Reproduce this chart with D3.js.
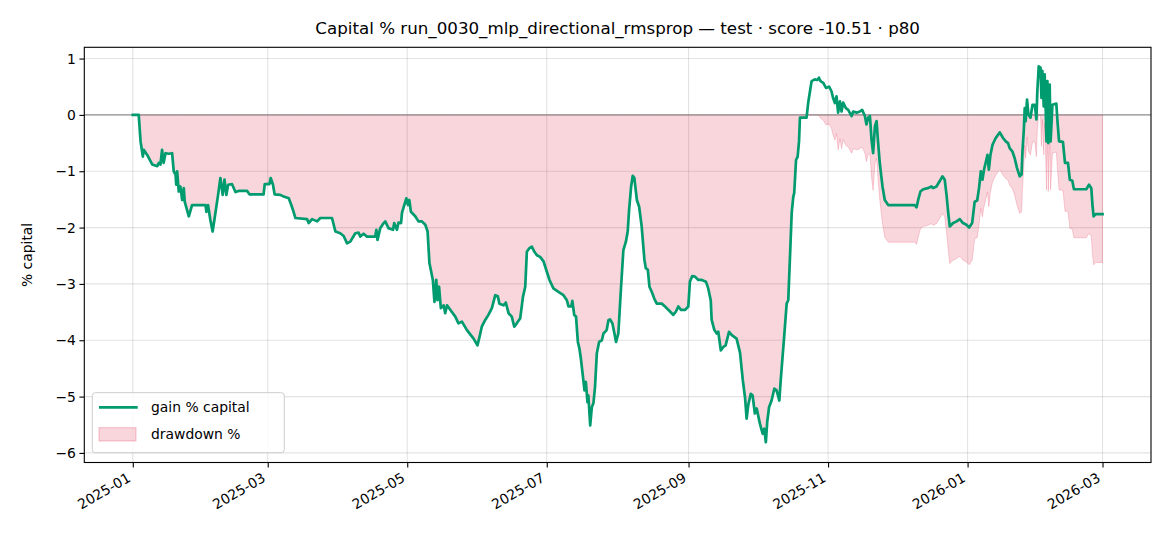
<!DOCTYPE html>
<html><head><meta charset="utf-8">
<script src="https://cdn.jsdelivr.net/npm/d3@7"></script>
<style>body{margin:0;background:#fff} svg{display:block} text{font-family:"DejaVu Sans",sans-serif;fill:#000}</style>
</head><body><svg id="c" width="1170" height="546"></svg>
<script>
const title = "Capital % run_0030_mlp_directional_rmsprop — test · score -10.51 · p80";
const yLabel = "% capital";
const seriesNames = ["gain % capital", "drawdown %"];
const startDate = "2025-01-01";
const dayOffsets = [0,2.6,3.4,4.4,4.8,6.3,8.5,10.7,11.4,12.1,12.8,13.5,14.3,15.7,17.2,17.9,18.7,19.0,19.4,20.1,20.8,21.6,22.3,22.7,24.5,25.9,31.8,32.2,32.9,33.9,34.9,35.8,37.3,38.3,39.3,40.1,40.9,41.7,43.4,44.9,46.3,50.0,51.0,57.2,57.7,59.7,60.3,61.3,62.0,64.5,66.0,68.2,69.3,70.3,71.1,76.2,76.9,78.4,80.6,82.0,87.1,88.6,90.7,92.2,93.7,95.1,97.3,98.7,99.5,100.9,102.4,106.0,106.5,107.0,108.2,109.7,110.4,111.8,113.8,114.3,115.5,116.2,117.3,117.7,118.7,119.6,120.3,120.9,121.6,123.5,124.9,126.4,127.9,128.9,129.7,131.2,131.9,132.7,133.2,133.9,134.7,135.9,136.6,137.4,138.8,141.0,142.4,143.9,146.1,149.0,150.7,151.6,152.6,154.1,155.5,157.0,158.5,159.6,160.3,162.1,163.1,164.3,165.7,166.8,167.9,169.4,170.6,171.6,172.3,173.3,174.5,175.6,176.7,178.1,179.6,181.0,182.2,183.9,186.1,188.3,189.8,190.5,191.7,192.2,193.0,193.8,194.6,195.3,195.9,197.0,197.5,198.1,198.8,199.2,200.0,200.7,201.4,202.1,202.9,203.9,205.1,205.8,207.2,208.0,208.7,209.7,210.6,211.3,212.3,213.5,214.5,215.6,216.4,217.0,217.9,218.6,219.3,220.4,221.4,222.5,223.7,224.3,225.2,225.9,226.9,228.0,229.1,231.3,232.7,234.9,236.3,237.5,238.5,239.7,241.5,242.9,243.6,244.6,245.8,247.3,248.8,250.6,251.6,252.7,253.1,254.3,255.3,256.0,257.1,258.2,259.2,260.7,261.9,264.0,265.5,266.7,267.7,268.4,269.1,270.2,271.0,272.0,272.8,274.2,275.4,276.1,276.8,277.4,278.2,279.3,280.5,281.5,282.7,283.3,284.0,284.8,285.9,286.6,287.3,288.1,288.8,289.2,290.0,290.7,291.3,291.7,294.6,295.3,296.1,296.8,298.2,299.3,300.0,300.7,301.9,303.1,304.5,305.5,306.2,307.0,307.7,308.4,309.2,309.9,310.6,311.8,312.8,314.3,315.0,316.5,317.9,318.9,320.1,320.8,321.5,322.3,323.0,323.7,324.5,325.2,325.9,326.6,327.8,328.8,330.3,341.9,342.7,343.4,344.4,345.6,347.7,349.2,349.9,351.4,352.9,354.0,355.0,355.8,356.5,357.2,358.7,360.2,361.6,363.0,364.5,365.7,367.0,368.1,369.2,370.0,370.8,371.5,372.2,372.9,373.7,374.3,375.0,375.9,377.3,379.1,380.5,381.7,382.7,383.4,384.6,385.6,386.6,387.8,388.6,389.0,389.6,390.0,390.4,391.0,391.6,392.5,393.4,394.4,395.1,395.5,396.1,396.9,397.3,397.7,398.3,398.7,399.2,399.5,399.9,400.3,400.9,401.3,402.1,403.8,404.3,405.0,406.7,407.6,408.9,409.7,410.8,411.5,416.9,418.1,419.1,419.6,420.1,421.0,424.0];
const gainPct = [0,0,-0.47,-0.74,-0.62,-0.71,-0.88,-0.91,-0.85,-0.88,-0.62,-0.85,-0.68,-0.69,-0.68,-1.0,-1.06,-1.24,-1.0,-1.36,-1.27,-1.51,-1.30,-1.54,-1.80,-1.60,-1.60,-1.72,-1.60,-1.86,-2.07,-1.83,-1.42,-1.12,-1.42,-1.15,-1.42,-1.24,-1.23,-1.37,-1.35,-1.35,-1.41,-1.41,-1.23,-1.23,-1.12,-1.24,-1.41,-1.42,-1.45,-1.48,-1.60,-1.72,-1.83,-1.85,-1.92,-1.85,-1.89,-1.83,-1.83,-2.07,-2.10,-2.15,-2.28,-2.25,-2.10,-2.09,-2.16,-2.11,-2.16,-2.16,-2.04,-2.22,-2.01,-1.92,-1.89,-2.01,-2.04,-1.92,-2.04,-1.91,-1.92,-1.74,-1.60,-1.48,-1.60,-1.51,-1.72,-1.80,-1.89,-1.89,-1.95,-2.07,-2.63,-2.93,-3.32,-2.93,-3.29,-3.05,-3.43,-3.38,-3.52,-3.38,-3.46,-3.58,-3.70,-3.67,-3.82,-3.97,-4.09,-3.94,-3.76,-3.64,-3.55,-3.43,-3.20,-3.22,-3.35,-3.38,-3.33,-3.52,-3.58,-3.76,-3.70,-3.61,-3.23,-3.05,-2.43,-2.37,-2.34,-2.43,-2.49,-2.52,-2.60,-2.78,-2.93,-3.08,-3.14,-3.20,-3.29,-3.40,-3.40,-3.30,-3.55,-3.58,-4.03,-4.15,-4.32,-4.71,-4.89,-4.74,-5.10,-4.98,-5.51,-5.19,-5.12,-4.83,-4.23,-4.03,-4.00,-3.88,-3.82,-3.64,-3.63,-3.70,-3.88,-4.03,-3.88,-3.05,-2.40,-2.25,-2.07,-1.69,-1.27,-1.08,-1.12,-1.51,-1.63,-1.98,-2.57,-2.72,-2.75,-3.05,-3.14,-3.26,-3.35,-3.35,-3.40,-3.49,-3.55,-3.49,-3.40,-3.46,-3.46,-3.40,-2.96,-2.86,-2.87,-2.93,-2.93,-2.96,-3.08,-3.29,-3.64,-3.82,-3.88,-3.85,-4.18,-4.12,-4.09,-3.85,-3.91,-3.97,-4.22,-4.70,-5.02,-5.39,-5.15,-4.95,-4.98,-5.30,-5.21,-5.48,-5.66,-5.57,-5.81,-5.45,-5.19,-5.07,-4.86,-4.89,-5.07,-4.71,-4.35,-3.94,-3.35,-3.29,-2.57,-1.74,-1.45,-1.39,-0.80,-0.74,-0.47,-0.05,-0.05,0.21,0.42,0.60,0.63,0.62,0.66,0.60,0.57,0.48,0.50,0.42,0.30,0.21,0.33,0.04,0.24,0.06,0.22,0.12,0.09,-0.02,0.06,0.04,0.06,0.09,-0.02,-0.17,-0.05,-0.02,-0.44,-0.68,-0.20,-0.11,-0.50,-0.85,-1.27,-1.51,-1.60,-1.60,-1.64,-1.51,-1.36,-1.32,-1.30,-1.27,-1.30,-1.27,-1.17,-1.09,-1.15,-1.42,-1.72,-1.98,-1.92,-1.89,-1.85,-1.92,-1.95,-2.00,-1.92,-1.54,-1.52,-1.30,-1.00,-1.15,-0.97,-0.85,-0.71,-0.97,-0.71,-0.53,-0.41,-0.31,-0.41,-0.47,-0.50,-0.59,-0.65,-0.77,-0.94,-1.09,-1.06,-0.65,-0.26,0.12,-0.11,0.27,0.01,-0.05,0.18,0.18,-0.08,0.42,0.86,0.84,0.30,0.78,0.15,0.72,0.04,-0.47,0.60,-0.50,0.54,-0.47,0.18,0.20,-0.11,-0.47,-0.48,-0.85,-0.85,-1.15,-1.17,-1.32,-1.32,-1.24,-1.30,-1.60,-1.80,-1.76,-1.76];
const yTicks = [-6,-5,-4,-3,-2,-1,0,1];
const xTickLabels = ["2025-01","2025-03","2025-05","2025-07","2025-09","2025-11","2026-01","2026-03"];

const W = 1170, H = 546;
const L = 84.3, R = 1151, T = 47.3, B = 462.5;
const svg = d3.select("#c");
const parseDay = d3.timeParse("%Y-%m-%d");
const parseMonth = d3.timeParse("%Y-%m");
const t0 = parseDay(startDate);
const dates = dayOffsets.map(d => new Date(t0.getTime() + d * 864e5));

// running-max drawdown of the gain series
let peak = 0;
const data = gainPct.map((g, i) => { peak = Math.max(peak, g); return {date: dates[i], gain: g, dd: g - peak}; });

const span = dates[dates.length-1] - dates[0];
const x = d3.scaleTime().domain([new Date(+dates[0] - span*0.05), new Date(+dates[dates.length-1] + span*0.05)]).range([L, R]);
const y = d3.scaleLinear().domain([-6.17, 1.2]).range([B, T]);

const g = svg.append("g");
// grid
const xTicks = xTickLabels.map(parseMonth);
g.append("g").selectAll("line").data(xTicks).join("line")
  .attr("x1", d => x(d)).attr("x2", d => x(d)).attr("y1", T).attr("y2", B)
  .attr("stroke", "#b0b0b0").attr("stroke-opacity", 0.35).attr("stroke-width", 1.1);
g.append("g").selectAll("line").data(yTicks).join("line")
  .attr("x1", L).attr("x2", R).attr("y1", d => y(d)).attr("y2", d => y(d))
  .attr("stroke", "#b0b0b0").attr("stroke-opacity", 0.35).attr("stroke-width", 1.1);

// drawdown area
const area = d3.area().x(d => x(d.date)).y0(y(0)).y1(d => y(d.dd));
g.append("path").datum(data).attr("d", area)
  .attr("fill", "crimson").attr("fill-opacity", 0.18)
  .attr("stroke", "crimson").attr("stroke-opacity", 0.18).attr("stroke-width", 1);

// zero line
g.append("line").attr("x1", L).attr("x2", R).attr("y1", y(0)).attr("y2", y(0))
  .attr("stroke", "#808080").attr("stroke-opacity", 0.8).attr("stroke-width", 1.1);

// gain line
const line = d3.line().x(d => x(d.date)).y(d => y(d.gain));
g.append("path").datum(data).attr("d", line)
  .attr("fill", "none").attr("stroke", "#009b6e").attr("stroke-width", 2.7)
  .attr("stroke-linejoin", "round").attr("stroke-linecap", "square");

// frame
svg.append("rect").attr("x", L).attr("y", T).attr("width", R - L).attr("height", B - T)
  .attr("fill", "none").attr("stroke", "#000").attr("stroke-width", 1.1);

// axes
const fmtY = d => d < 0 ? "\u2212" + Math.abs(d) : String(d);
const ya = svg.append("g").attr("transform", `translate(${L},0)`)
  .call(d3.axisLeft(y).tickValues(yTicks).tickFormat(fmtY).tickSize(4.9).tickPadding(3.5));
ya.select(".domain").remove();
ya.selectAll("line").attr("stroke", "#000").attr("stroke-width", 1.1);
ya.selectAll("text").attr("font-size", "13.9px").attr("font-family", "DejaVu Sans");

const xa = svg.append("g").attr("transform", `translate(0,${B})`)
  .call(d3.axisBottom(x).tickValues(xTicks).tickFormat(d3.timeFormat("%Y-%m")).tickSize(4.9));
xa.select(".domain").remove();
xa.selectAll("line").attr("stroke", "#000").attr("stroke-width", 1.1);
xa.selectAll("text").attr("font-size", "13.9px").attr("font-family", "DejaVu Sans")
  .attr("text-anchor", "end").attr("y", 0).attr("dy", "0.76em")
  .attr("transform", "translate(-7,9) rotate(-30)");

// title
svg.append("text").attr("x", (L + R) / 2).attr("y", 34).attr("text-anchor", "middle")
  .attr("font-size", "16.7px").text(title);
// y label
svg.append("text").attr("transform", `translate(32,${(T + B) / 2}) rotate(-90)`)
  .attr("text-anchor", "middle").attr("font-size", "13.9px").text(yLabel);

// legend
const lg = svg.append("g");
lg.append("rect").attr("x", 92.3).attr("y", 392.7).attr("width", 192).attr("height", 60).attr("rx", 3)
  .attr("fill", "#fff").attr("fill-opacity", 0.8).attr("stroke", "#cccccc").attr("stroke-width", 1);
lg.append("line").attr("x1", 99).attr("x2", 137.7).attr("y1", 407.3).attr("y2", 407.3)
  .attr("stroke", "#009b6e").attr("stroke-width", 2.7);
lg.append("text").attr("x", 151).attr("y", 407.3).attr("dy", "0.36em").attr("font-size", "13.9px").text(seriesNames[0]);
lg.append("rect").attr("x", 99).attr("y", 427.7).attr("width", 37).attr("height", 13.3)
  .attr("fill", "crimson").attr("fill-opacity", 0.18).attr("stroke", "crimson").attr("stroke-opacity", 0.25);
lg.append("text").attr("x", 151).attr("y", 434.3).attr("dy", "0.36em").attr("font-size", "13.9px").text(seriesNames[1]);
</script></body></html>
